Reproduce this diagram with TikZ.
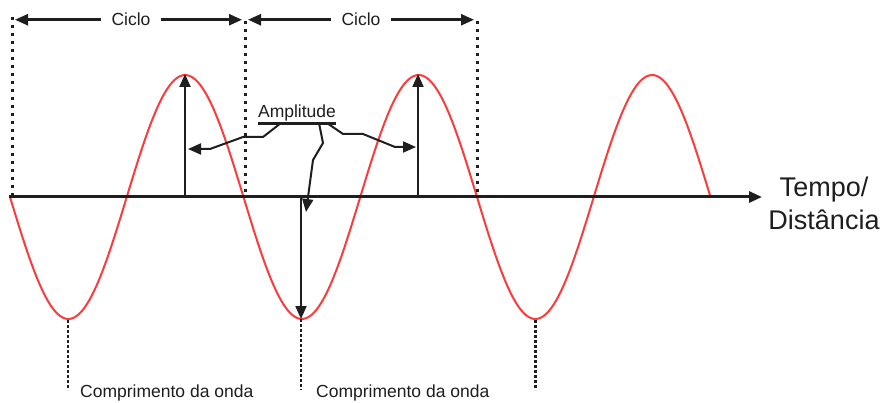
\documentclass[tikz,border=0pt]{standalone}
\usepackage{fontspec}
\setmainfont{Liberation Sans}
\usetikzlibrary{positioning,arrows.meta}
\definecolor{wave}{RGB}{250,60,60}
\definecolor{ink}{RGB}{30,30,30}

\begin{document}
\begin{tikzpicture}[x=1pt,y=-1pt,
  arr/.style={ink,line width=2pt,-{Triangle[length=13pt,width=11pt]}},
  lbl/.style={font=\fontsize{17.5}{20}\selectfont,text=ink,inner sep=0pt},
  cyc/.style={ink,line width=3pt,dash pattern=on 3pt off 5pt},
  wl/.style={ink,line width=2pt,dash pattern=on 3pt off 2pt}]
\useasboundingbox (0,0) rectangle (883,403);
% axis
\coordinate (o) at (9,197);
\coordinate (xend) at (762,197);
\node[lbl,font=\fontsize{27}{33}\selectfont,align=center] (tempo) at (824,203) {Tempo/\\Distância};
% the wave
\draw[wave,line width=2pt] plot[domain=10:710,samples=240,smooth]
  (\x,{197+122*sin((\x-10)/233.5*360)});
\draw[arr,line width=3pt] (o) -- (xend);
% cycle limits
\coordinate (d0) at (12,17);
\coordinate (d1) at (245,21);
\coordinate (d2) at (477,21);
\foreach \n in {0,1,2}
  \draw[cyc] (d\n) -- (d\n |- o);
\node[lbl,inner xsep=10pt,anchor=base] (ciclo1) at (131,26) {Ciclo};
\node[lbl,inner xsep=10pt,anchor=base] (ciclo2) at (361,26) {Ciclo};
\draw[arr,line width=2.5pt] (ciclo1.west) -- ([xshift=3pt]ciclo1.west -| d0);
\draw[arr,line width=2.5pt] (ciclo1.east) -- ([xshift=-3pt]ciclo1.east -| d1);
\draw[arr,line width=2.5pt] (ciclo2.west) -- ([xshift=3pt]ciclo2.west -| d1);
\draw[arr,line width=2.5pt] (ciclo2.east) -- ([xshift=-3pt]ciclo2.east -| d2);
% amplitude
\coordinate (b1) at (185,197);
\coordinate (pk1) at (185,74);
\coordinate (b2) at (418,197);
\coordinate (pk2) at (418,74);
\coordinate (b3) at (301,195);
\coordinate (tr1) at (68,320);
\coordinate (tr2) at (301,319);
\coordinate (tr3) at (535,320);
\draw[arr] (b1) -- (pk1);
\draw[arr] (b2) -- (pk2);
\draw[arr] (b3) -- (tr2);
\node[lbl,anchor=base] (ampl) at (297,118) {Amplitude};
\draw[ink,line width=2.5pt] ([yshift=-1.5pt]ampl.south west) -- ([yshift=-1.5pt]ampl.south east);
\coordinate (u1) at (281,123);
\coordinate (u2) at (319,123);
\coordinate (u3) at (327,123);
\coordinate (la) at (188,149);
\coordinate (ra) at (416,147);
\coordinate (ma) at (306,212);
\draw[arr] (u1) -- (263,137) -- (243,137) -- (210,149) -- (la);
\draw[arr] (u3) -- (343,134) -- (363,134) -- (395,147) -- (ra);
\draw[arr] (u2) -- (323,143) -- (313,160) -- (ma);
% wavelength
\draw[wl] (tr1) -- (68,390);
\draw[wl] (tr2) -- (301,390);
\draw[wl,line width=3pt] (tr3) -- (535,390);
\node[lbl,anchor=base west] (comp1) at (80,397) {Comprimento da onda};
\node[lbl,anchor=base west] (comp2) at (316,397) {Comprimento da onda};
\end{tikzpicture}
\end{document}
